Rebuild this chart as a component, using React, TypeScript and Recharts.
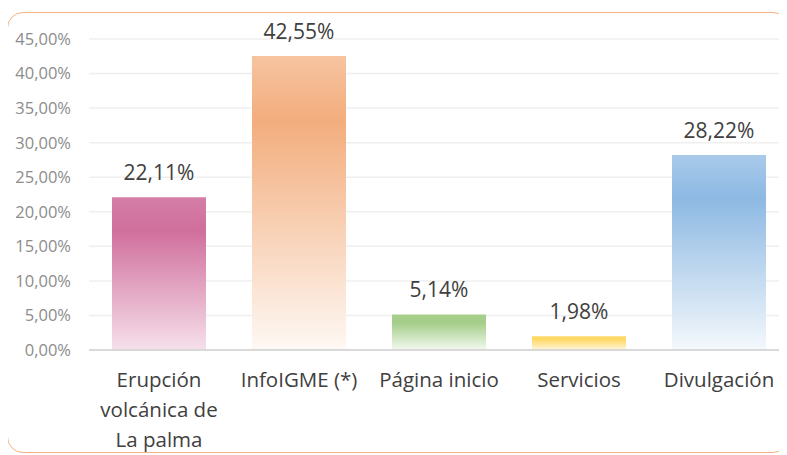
import React from "react";
import { BarChart, Bar, XAxis, YAxis, CartesianGrid, Cell, LabelList } from "recharts";

const categories = ["Erupción volcánica de La palma", "InfoIGME (*)", "Página inicio", "Servicios", "Divulgación"];
const values = [0.2211, 0.4255, 0.0514, 0.0198, 0.2822];
const yTicks = [0, 0.05, 0.1, 0.15, 0.2, 0.25, 0.3, 0.35, 0.4, 0.45];
const gradients = [
  { id: "g0", top: "#d47ea6", mid: "#d06f9c", bottom: "#f6e0eb" },
  { id: "g1", top: "#f6c4a0", mid: "#f3ad7d", bottom: "#fef8f4" },
  { id: "g2", top: "#a6cf8c", mid: "#a3cd88", bottom: "#f3f9ef" },
  { id: "g3", top: "#ffd965", mid: "#ffd965", bottom: "#fff6dc" },
  { id: "g4", top: "#a9caea", mid: "#8db9e3", bottom: "#f4f8fc" },
];

const data = categories.map((c, i) => ({ name: c, value: values[i] }));

const fmt = (v: number) => (v * 100).toFixed(2).replace(".", ",") + "%";

const FONT = "'Open Sans', Lato, sans-serif";

const XTick = (props: any) => {
  const { x, y, payload } = props;
  const label: string = payload.value;
  let lines: string[] = [label];
  if (label.startsWith("Erupción")) lines = ["Erupción", "volcánica de", "La palma"];
  return (
    <g transform={`translate(${x},${y})`}>
      {lines.map((l, i) => (
        <text key={i} x={0} y={29 + i * 30} textAnchor="middle" fill="#404040" fontSize={20.5} fontFamily={FONT}>
          {l}
        </text>
      ))}
    </g>
  );
};

export default function App() {
  return (
    <div style={{ position: "relative", width: 779, height: 447, overflow: "hidden", fontFamily: FONT }}>
      <div
        style={{
          position: "absolute",
          left: -1,
          top: 4,
          width: 782,
          height: 441,
          border: "1.5px solid #f4b183",
          borderRadius: 16,
          boxSizing: "border-box",
        }}
      />
      <div style={{ position: "absolute", left: 0, top: 0 }}>
        <BarChart width={790} height={447} data={data} margin={{ top: 31, right: 9, left: 0, bottom: 5 }}>
          <defs>
            {gradients.map((g) => (
              <linearGradient key={g.id} id={g.id} x1="0" y1="0" x2="0" y2="1">
                <stop offset="0%" stopColor={g.top} />
                <stop offset="22%" stopColor={g.mid} />
                <stop offset="100%" stopColor={g.bottom} />
              </linearGradient>
            ))}
          </defs>
          <CartesianGrid vertical={false} stroke="#efefef" strokeWidth={1.5} />
          <XAxis
            dataKey="name"
            height={100}
            tickLine={false}
            axisLine={{ stroke: "#d9d9d9", strokeWidth: 2 }}
            tick={<XTick />}
            interval={0}
          />
          <YAxis
            width={81}
            domain={[0, 0.45]}
            ticks={yTicks}
            tickFormatter={fmt}
            tickLine={false}
            axisLine={false}
            tickSize={0}
            tickMargin={18}
            tick={{ fill: "#8c8c8c", fontSize: 16.5, fontFamily: FONT }}
          />
          <Bar dataKey="value" barSize={94} isAnimationActive={false}>
            {data.map((d, i) => (
              <Cell key={i} fill={`url(#${gradients[i].id})`} />
            ))}
            <LabelList
              dataKey="value"
              position="top"
              offset={17}
              formatter={(v: any) => fmt(Number(v))}
              fill="#404040"
              fontSize={21}
              fontFamily={FONT}
            />
          </Bar>
        </BarChart>
      </div>
    </div>
  );
}
